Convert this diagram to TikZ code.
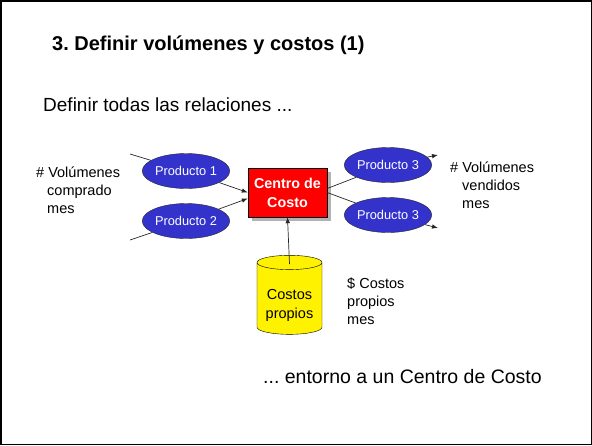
\documentclass[tikz,border=0pt]{standalone}
\usepackage{fontspec}
\setmainfont{Liberation Sans}
\usetikzlibrary{shapes.geometric,arrows.meta}
\frenchspacing
\definecolor{prodblue}{RGB}{51,51,204}
\tikzset{
  prod/.style={ellipse, draw=black!85, fill=prodblue, text=white, minimum width=74pt, minimum height=35pt, inner sep=0pt, font=\fontsize{12.8}{15}\selectfont},
  flow/.style={draw=black!85, line width=0.7pt},
  flowtip/.style={flow, -{Latex[length=6pt,width=4.5pt]}},
  note/.style={anchor=west, align=left, inner sep=0pt, font=\fontsize{14.5}{18}\selectfont}
}
\begin{document}
\begin{tikzpicture}[x=1pt,y=-1pt]
  \useasboundingbox (0,0) rectangle (592,445);
  \draw[line width=1.5pt] (0.75,0.75) rectangle (591.25,444.25);

  \node[anchor=west, inner sep=0pt, font=\bfseries\fontsize{20}{24}\selectfont] (title) at (52,45) {3. Definir volúmenes y costos (1)};
  \node[anchor=west, inner sep=0pt, font=\fontsize{19}{23}\selectfont] (intro) at (43,105) {Definir todas las relaciones ...};
  \node[anchor=west, inner sep=0pt, font=\fontsize{19.5}{23}\selectfont] (outro) at (263,377) {... entorno a un Centro de Costo};

  % centro de costo
  \fill[gray!60] (252,172) rectangle (331,221);
  \node[draw=black, fill=red, text=white, minimum width=79pt, minimum height=49pt, inner sep=0pt, align=center, font=\bfseries\fontsize{14.3}{19}\selectfont] (centro) at (287.5,192.5) {Centro de\\Costo};

  \node[prod] (p1) at (186,171) {Producto 1};
  \node[prod] (p2) at (186,221) {Producto 2};
  \node[prod] (p3) at (388,165) {Producto 3};
  \node[prod] (p4) at (388,215) {Producto 3};

  \node[cylinder, shape border rotate=90, aspect=0.3, draw=black, fill=yellow, minimum width=65pt, minimum height=79pt, inner sep=0pt, align=center, font=\fontsize{14.5}{19}\selectfont] (costos) at (289.5,298.5) {\\[4pt]Costos\\propios};

  \coordinate (inA) at (130,154);
  \coordinate (inB) at (130,240);
  \coordinate (outA) at (438,155);
  \coordinate (outB) at (438,228);

  \draw[flow] (inA) -- (p1);
  \draw[flowtip] (p1) -- (centro.west);
  \draw[flow] (inB) -- (p2);
  \draw[flowtip] (p2) -- ([yshift=-6pt]centro.west);
  \draw[flow] ([yshift=4pt]centro.east) -- (p3);
  \draw[flowtip] (p3) -- (outA);
  \draw[flow] (centro.east) -- (p4);
  \draw[flowtip] (p4) -- (outB);
  \draw[flowtip] ([yshift=-9pt]costos.top) -- (centro.south);

  \node[note] (volin) at (36,190) {\# Volúmenes\\\hspace*{11pt}comprado\\\hspace*{11pt}mes};
  \node[note] (volout) at (450,185) {\# Volúmenes\\\hspace*{12pt}vendidos\\\hspace*{12pt}mes};
  \node[note] (costmes) at (347,301) {\$ Costos\\propios\\mes};
\end{tikzpicture}
\end{document}
